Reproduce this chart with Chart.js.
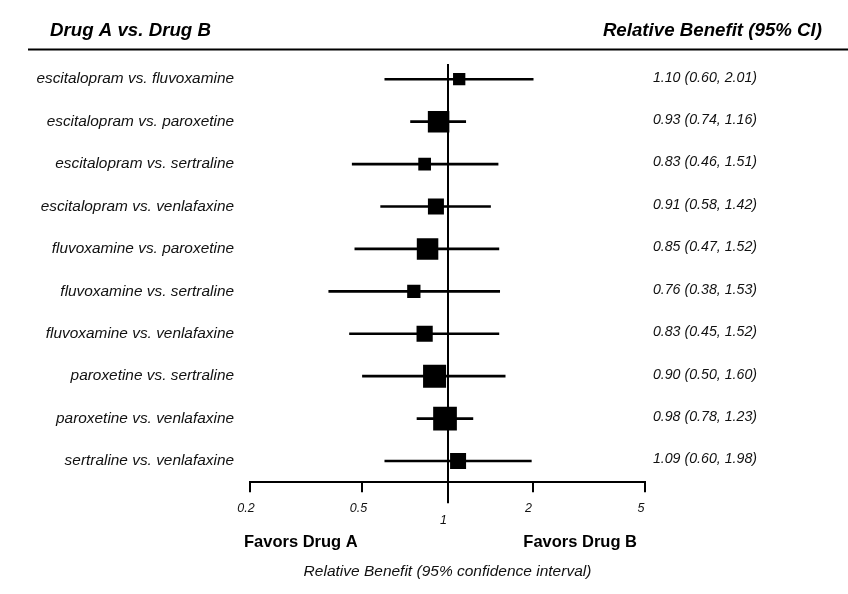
<!DOCTYPE html>
<html>
<head>
<meta charset="utf-8">
<script src="https://cdn.jsdelivr.net/npm/chart.js@4.4.1/dist/chart.umd.min.js"></script>
<style>
  body { margin: 0; background: #fff; }
  canvas { display: block; }
</style>
</head>
<body>
<canvas id="forest" width="848" height="594"></canvas>
<script>
// comparações (linhas do forest plot)
const comparisons = [
  'escitalopram vs. fluvoxamine',
  'escitalopram vs. paroxetine',
  'escitalopram vs. sertraline',
  'escitalopram vs. venlafaxine',
  'fluvoxamine vs. paroxetine',
  'fluvoxamine vs. sertraline',
  'fluvoxamine vs. venlafaxine',
  'paroxetine vs. sertraline',
  'paroxetine vs. venlafaxine',
  'sertraline vs. venlafaxine'
];
const estimate = [1.10, 0.93, 0.83, 0.91, 0.85, 0.76, 0.83, 0.90, 0.98, 1.09];
const lower = [0.60, 0.74, 0.46, 0.58, 0.47, 0.38, 0.45, 0.50, 0.78, 0.60];
const upper = [2.01, 1.16, 1.51, 1.42, 1.52, 1.53, 1.52, 1.60, 1.23, 1.98];
const xTicks = [0.2, 0.5, 1, 2, 5];

// tamanho dos quadrados (lado em px)
const boxSide = [12.3, 21.5, 12.7, 16, 21.5, 13.3, 16.2, 23, 23.7, 16];

const FONT = '"Liberation Sans", Arial, sans-serif';

const ranges = comparisons.map((c, i) => [lower[i], upper[i]]);
const points = comparisons.map((c, i) => ({ x: estimate[i], y: c }));
const valueTexts = comparisons.map((c, i) =>
  estimate[i].toFixed(2) + ' (' + lower[i].toFixed(2) + ', ' + upper[i].toFixed(2) + ')');

// cabeçalho, linha de referência e textos "Favors"
const forestDecor = {
  id: 'forestDecor',
  beforeDatasetsDraw(chart) {
    const ctx = chart.ctx;
    const area = chart.chartArea;
    const x1 = Math.round(chart.scales.x.getPixelForValue(1));
    ctx.save();
    ctx.strokeStyle = '#000';
    ctx.lineWidth = 2;
    ctx.beginPath();
    ctx.moveTo(x1, area.top + 6);
    ctx.lineTo(x1, area.bottom + 21);
    ctx.stroke();
    ctx.restore();
  },
  afterDraw(chart) {
    const ctx = chart.ctx;
    const area = chart.chartArea;
    ctx.save();
    ctx.fillStyle = '#000';
    ctx.textBaseline = 'alphabetic';
    ctx.font = 'italic bold 18.7px ' + FONT;
    ctx.textAlign = 'left';
    ctx.fillText('Drug A vs. Drug B', 50, 36);
    ctx.textAlign = 'right';
    ctx.fillText('Relative Benefit (95% CI)', 822, 36);

    ctx.strokeStyle = '#000';
    ctx.lineWidth = 2;
    ctx.beginPath();
    ctx.moveTo(28, 49.5);
    ctx.lineTo(848, 49.5);
    ctx.stroke();

    ctx.font = 'bold 16.5px ' + FONT;
    ctx.textBaseline = 'middle';
    ctx.textAlign = 'left';
    ctx.fillText('Favors Drug A', area.left - 6, 542);
    ctx.textAlign = 'right';
    ctx.fillText('Favors Drug B', area.right - 8, 542);
    ctx.restore();
  }
};

new Chart(document.getElementById('forest'), {
  type: 'bar',
  data: {
    labels: comparisons,
    datasets: [
      {
        type: 'scatter',
        data: points,
        pointStyle: 'rect',
        pointRadius: boxSide.map(s => s / Math.SQRT2),
        pointBackgroundColor: '#000',
        pointBorderWidth: 0,
        order: 0
      },
      {
        type: 'bar',
        data: ranges,
        backgroundColor: '#000',
        borderWidth: 0,
        barThickness: 2,
        order: 1
      }
    ]
  },
  options: {
    indexAxis: 'y',
    responsive: false,
    animation: false,
    events: [],
    layout: { padding: { top: 58, left: 0, right: 91, bottom: 0 } },
    plugins: { legend: { display: false }, tooltip: { enabled: false } },
    scales: {
      x: {
        type: 'logarithmic',
        min: 0.2,
        max: 5,
        afterBuildTicks: s => { s.ticks = xTicks.map(v => ({ value: v })); },
        afterFit: s => { s.height = 111.8; },
        grid: { drawOnChartArea: false, drawTicks: true, tickLength: 10, color: '#000', lineWidth: 2 },
        border: { display: true, color: '#000', width: 2 },
        ticks: {
          autoSkip: false,
          maxRotation: 0,
          padding: 10,
          labelOffset: -4,
          color: '#111',
          font: { family: FONT, size: 12.5, style: 'italic', lineHeight: 1 },
          callback: v => (v === 1 ? ['', '1'] : String(v))
        },
        title: {
          display: true,
          text: 'Relative Benefit (95% confidence interval)',
          color: '#111',
          font: { family: FONT, size: 15.5, style: 'italic' },
          padding: { top: 0, bottom: 13 }
        }
      },
      y: {
        type: 'category',
        offset: true,
        afterFit: s => { s.width = 250; },
        grid: { display: false },
        border: { display: false },
        ticks: {
          padding: 8,
          color: '#111',
          font: { family: FONT, size: 15.4, style: 'italic' }
        }
      },
      y2: {
        type: 'category',
        position: 'right',
        labels: valueTexts,
        offset: true,
        afterFit: s => { s.width = 112; },
        grid: { display: false },
        border: { display: false },
        ticks: {
          crossAlign: 'far',
          labelOffset: -1.5,
          color: '#111',
          font: { family: FONT, size: 14.2, style: 'italic' }
        }
      }
    }
  },
  plugins: [forestDecor]
});
</script>
</body>
</html>
